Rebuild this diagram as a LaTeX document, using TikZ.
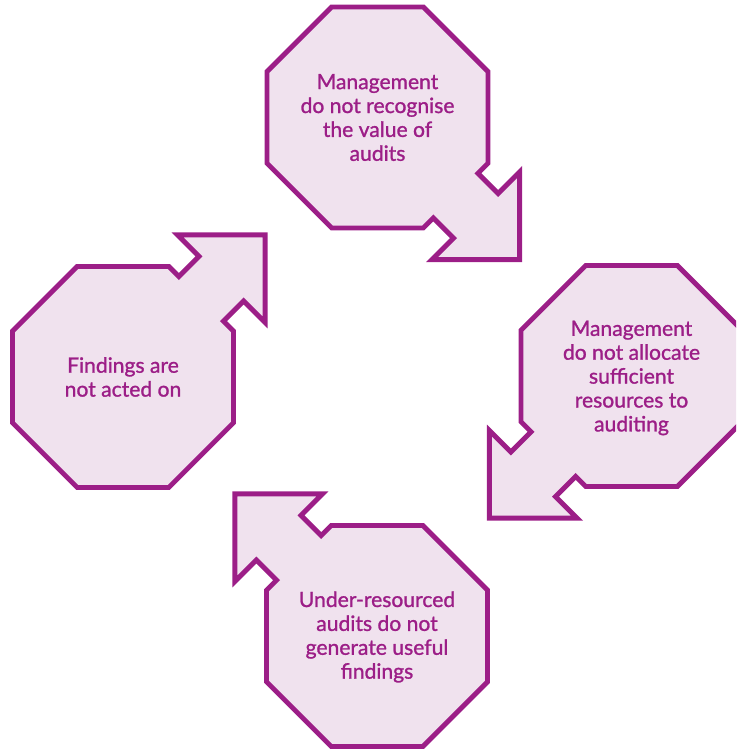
\documentclass[tikz,border=0pt]{standalone}
\usepackage{fontspec}
\setmainfont{Lato}
\newfontfamily\octafont{Lato}[FakeBold=1.2]
\definecolor{plum}{HTML}{9C1E87}
\definecolor{blush}{HTML}{F0E2EE}
\tikzset{
  octa/.style={draw=plum,fill=blush,line width=2.8pt,line join=miter},
  octatext/.style={text=plum,align=center,font=\octafont\fontsize{12}{13.6}\selectfont}
}
\begin{document}
\begin{tikzpicture}[x=0.02cm,y=0.02cm]
\def\ap{110.5}
\def\hs{45.8}
\def\sw{31.5}
\def\se{139}
\def\hw{62}
\def\tp{201}
% octagon with its arrow pointing along +x
\def\octapath{(\ap,-\hs) -- (\ap,-\sw) -- (\se,-\sw) -- (\se,-\hw) -- (\tp,0)
	-- (\se,\hw) -- (\se,\sw) -- (\ap,\sw) -- (\ap,\hs) -- (\hs,\ap) -- (-\hs,\ap)
	-- (-\ap,\hs) -- (-\ap,-\hs) -- (-\hs,-\ap) -- (\hs,-\ap) -- cycle}
\useasboundingbox (0,0) rectangle (736,749);
\begin{scope}
\clip (0,0) rectangle (736,749);
\begin{scope}[shift={(377.5,631.5)},rotate=-45]
\draw[octa] \octapath;
\end{scope}
\begin{scope}[shift={(631.5,373)},rotate=-135]
\draw[octa] \octapath;
\end{scope}
\begin{scope}[shift={(377,113)},rotate=135]
\draw[octa] \octapath;
\end{scope}
\begin{scope}[shift={(123,372)},rotate=45]
\draw[octa] \octapath;
\end{scope}
\end{scope}
\node[octatext] (value) at (377.5,631.5) {Management\\do not recognise\\the value of\\audits};
\node[octatext] (resources) at (631.5,371) {Management\\do not allocate\\sufficient\\resources to\\auditing};
\node[octatext] (findings) at (377,112) {Under-resourced\\audits do not\\generate useful\\findings};
\node[octatext] (acted) at (123,372) {Findings are\\not acted on};
\end{tikzpicture}
\end{document}
